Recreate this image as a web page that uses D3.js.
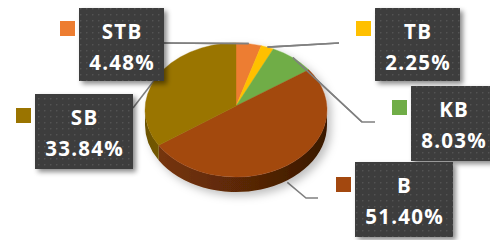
<!DOCTYPE html>
<html><head><meta charset="utf-8">
<script src="https://cdn.jsdelivr.net/npm/d3@7"></script>
<style>html,body{margin:0;padding:0;background:#fff;overflow:hidden}</style>
</head><body>
<svg id="c" width="490" height="240"></svg>
<script>
const categories = ["STB", "TB", "KB", "B", "SB"];
const values = [4.48, 2.25, 8.03, 51.40, 33.84];
const labels = ["4.48%", "2.25%", "8.03%", "51.40%", "33.84%"];
const colors = ["#ED7D31", "#FFC000", "#70AD47", "#A3480F", "#9A7400"];
const sideColors = ["#9a4d18", "#a67c00", "#4a7a2c", "#6e3008", "#6a5000"];

const W = 490, H = 240;
const cx = 236, cy = 110, rx = 91, ry = 67, depth = 15, apexDy = -4;

// label layout (box position and size, leader elbow points)
const layout = {
  STB: {x: 79, y: 8, w: 85, h: 73, sq: 13, conn: [[164, 43]]},
  TB:  {x: 375, y: 8, w: 85, h: 73, sq: 13, conn: [[339, 43]]},
  KB:  {x: 411, y: 86, w: 85, h: 75, sq: 14, conn: [[375, 122], [362, 122]]},
  B:   {x: 355, y: 162, w: 98, h: 75, sq: 15, conn: [[318, 198], [306, 198]], bottom: true},
  SB:  {x: 35, y: 94, w: 98, h: 75, sq: 14, conn: [[133, 108]]}
};

const svg = d3.select("#c");
const defs = svg.append("defs");

const pat = defs.append("pattern").attr("id", "dots").attr("patternUnits", "userSpaceOnUse")
  .attr("width", 6).attr("height", 6);
pat.append("rect").attr("width", 6).attr("height", 6).attr("fill", "#3d3d3d");
pat.append("rect").attr("x", 2).attr("y", 2).attr("width", 1.4).attr("height", 1.4).attr("fill", "#535353");

const f1 = defs.append("filter").attr("id", "pieShadow").attr("x", "-20%").attr("y", "-20%").attr("width", "150%").attr("height", "150%");
f1.append("feDropShadow").attr("dx", 4).attr("dy", 4).attr("stdDeviation", 4).attr("flood-color", "#000").attr("flood-opacity", 0.25);
const f2 = defs.append("filter").attr("id", "boxShadow").attr("x", "-20%").attr("y", "-20%").attr("width", "150%").attr("height", "150%");
f2.append("feDropShadow").attr("dx", 3).attr("dy", 3).attr("stdDeviation", 2.5).attr("flood-color", "#000").attr("flood-opacity", 0.45);

const gB = defs.append("linearGradient").attr("id", "sideB").attr("gradientUnits", "userSpaceOnUse")
  .attr("x1", cx - rx).attr("x2", cx + rx).attr("y1", 0).attr("y2", 0);
gB.append("stop").attr("offset", "0").attr("stop-color", "#7a370b");
gB.append("stop").attr("offset", "0.4").attr("stop-color", "#632b07");
gB.append("stop").attr("offset", "1").attr("stop-color", "#3a1904");
const gS = defs.append("linearGradient").attr("id", "sideSB").attr("gradientUnits", "userSpaceOnUse")
  .attr("x1", cx - rx).attr("x2", cx - rx + 30).attr("y1", 0).attr("y2", 0);
gS.append("stop").attr("offset", "0").attr("stop-color", "#6b5200");
gS.append("stop").attr("offset", "1").attr("stop-color", "#7d5f00");

const pie = d3.pie().sort(null).value(d => d);
const arcs = pie(values);
const P = (a, dy = 0) => [cx + rx * Math.sin(a), cy - ry * Math.cos(a) + dy];

// leader lines
const lines = svg.append("g");
arcs.forEach((d, i) => {
  const L = layout[categories[i]];
  const mid = (d.startAngle + d.endAngle) / 2;
  const edge = P(mid, L.bottom ? depth + 2 : 0);
  const pts = L.conn.concat([edge]);
  lines.append("path").attr("d", d3.line()(pts)).attr("fill", "none")
    .attr("stroke", "#808080").attr("stroke-width", 1.6);
});

const pg = svg.append("g").attr("filter", "url(#pieShadow)");
arcs.forEach((d, i) => {
  const s = Math.max(d.startAngle, Math.PI / 2), e = Math.min(d.endAngle, 3 * Math.PI / 2);
  if (s >= e) return;
  const p0 = P(s), p1 = P(e), q1 = P(e, depth), q0 = P(s, depth);
  const large = (e - s) > Math.PI ? 1 : 0;
  const path = `M${p0}A${rx},${ry} 0 ${large} 1 ${p1}L${q1}A${rx},${ry} 0 ${large} 0 ${q0}Z`;
  const fill = categories[i] === "B" ? "url(#sideB)" : categories[i] === "SB" ? "url(#sideSB)" : sideColors[i];
  pg.append("path").attr("d", path).attr("fill", fill);
});
arcs.forEach((d, i) => {
  const p0 = P(d.startAngle), p1 = P(d.endAngle);
  const large = (d.endAngle - d.startAngle) > Math.PI ? 1 : 0;
  pg.append("path").attr("d", `M${cx},${cy + apexDy}L${p0}A${rx},${ry} 0 ${large} 1 ${p1}Z`)
    .attr("fill", colors[i]).attr("stroke", colors[i]).attr("stroke-width", 0.4);
});
arcs.forEach((d, i) => {
  const L = layout[categories[i]];
  if (!(categories[i] === "STB" || categories[i] === "TB" || categories[i] === "KB")) return;
  const mid = (d.startAngle + d.endAngle) / 2;
  const edge = P(mid);
  svg.append("path").attr("d", d3.line()([L.conn[L.conn.length - 1], edge])).attr("fill", "none")
    .attr("stroke", "#808080").attr("stroke-width", 1.6);
});

// labels
const ls = 1.3;
categories.forEach((c, i) => {
  const L = layout[c];
  const g = svg.append("g");
  g.append("rect").attr("x", L.x - 19).attr("y", L.y + L.sq).attr("width", 15).attr("height", 15).attr("fill", colors[i]);
  g.append("rect").attr("x", L.x).attr("y", L.y).attr("width", L.w).attr("height", L.h)
    .attr("fill", "url(#dots)").attr("filter", "url(#boxShadow)");
  const t = g.append("text").attr("text-anchor", "middle").attr("fill", "#fff")
    .attr("font-family", "'Open Sans', sans-serif").attr("font-weight", 700).attr("font-size", 20.5)
    .attr("letter-spacing", ls);
  t.append("tspan").attr("x", L.x + L.w / 2 + ls / 2).attr("y", L.y + 31).text(c);
  t.append("tspan").attr("x", L.x + L.w / 2 + ls / 2).attr("y", L.y + 62).text(labels[i]);
});
</script>
</body></html>
